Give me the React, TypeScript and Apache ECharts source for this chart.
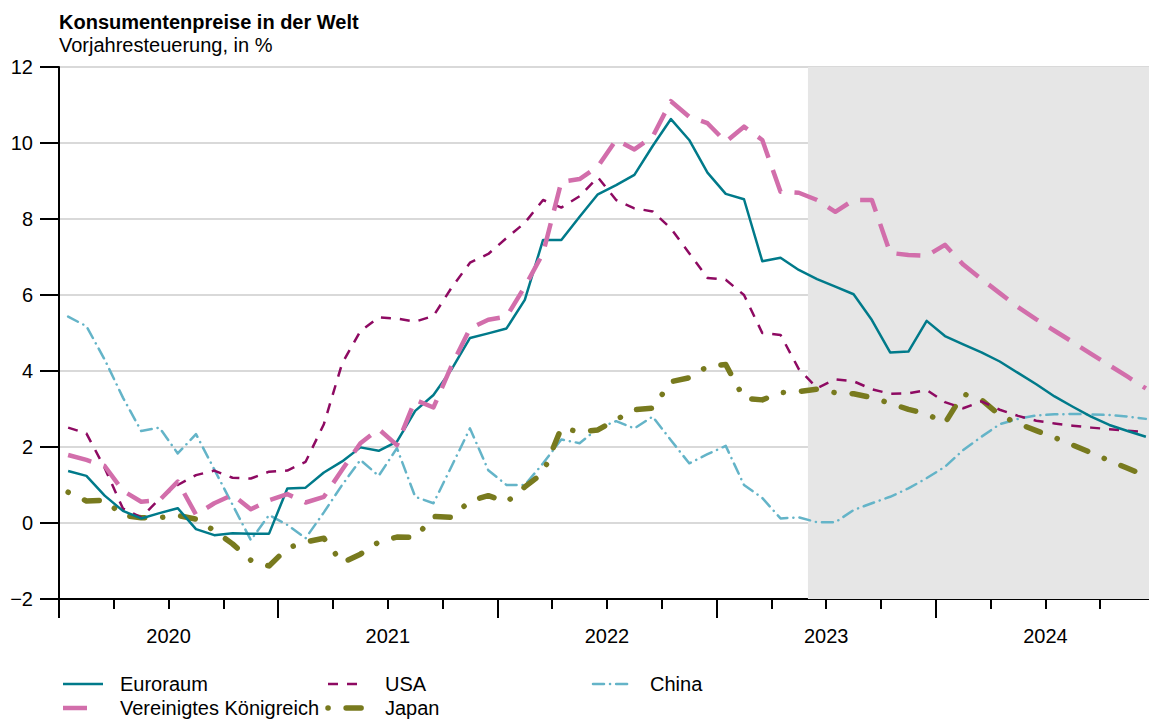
import React, { useEffect, useRef } from "react";
import * as echarts from "echarts";

// ---- data (monthly, Jan 2020 – Dec 2024; year-on-year change in %) ----
const years = ["2020", "2021", "2022", "2023", "2024"];

const euroraum = [
  1.37, 1.24, 0.72, 0.32, 0.12, 0.26, 0.39, -0.16, -0.32, -0.27, -0.28, -0.28,
  0.91, 0.93, 1.33, 1.62, 1.99, 1.9, 2.14, 2.95, 3.37, 4.05, 4.87, 4.99,
  5.12, 5.87, 7.45, 7.45, 8.06, 8.65, 8.89, 9.16, 9.92, 10.63, 10.08, 9.22,
  8.66, 8.52, 6.89, 6.98, 6.66, 6.42, 6.22, 6.02, 5.34, 4.49, 4.51, 5.32,
  4.92, 4.7, 4.49, 4.25, 3.95, 3.65, 3.33, 3.06, 2.8, 2.58, 2.42, 2.27,
];

const vereinigtesKoenigreich = [
  1.79, 1.66, 1.5, 0.85, 0.56, 0.6, 1.09, 0.22, 0.52, 0.74, 0.36, 0.6,
  0.76, 0.54, 0.69, 1.4, 2.1, 2.47, 2.05, 3.24, 3.04, 4.15, 5.12, 5.35,
  5.43, 6.22, 7.1, 8.98, 9.05, 9.38, 10.08, 9.83, 10.17, 11.1, 10.69, 10.52,
  10.03, 10.43, 10.08, 8.72, 8.69, 8.5, 8.19, 8.5, 8.5, 7.11, 7.05, 7.03,
  7.32, 6.8, 6.42, 6.05, 5.68, 5.36, 5.06, 4.76, 4.45, 4.15, 3.85, 3.54,
];

const usa = [
  2.51, 2.36, 1.45, 0.38, 0.15, 0.63, 1.0, 1.26, 1.38, 1.19, 1.17, 1.35,
  1.38, 1.61, 2.6, 4.2, 5.05, 5.41, 5.38, 5.3, 5.45, 6.2, 6.85, 7.08,
  7.5, 7.9, 8.5, 8.3, 8.6, 9.1, 8.5, 8.28, 8.2, 7.75, 7.1, 6.45,
  6.4, 6.0, 5.0, 4.95, 4.05, 3.55, 3.78, 3.73, 3.52, 3.4, 3.41, 3.5,
  3.18, 3.02, 3.2, 2.98, 2.82, 2.69, 2.62, 2.56, 2.51, 2.47, 2.43, 2.39,
];

const japan = [
  0.81, 0.58, 0.6, 0.2, 0.14, 0.14, 0.2, 0.1, -0.2, -0.55, -0.98, -1.13,
  -0.66, -0.5, -0.4, -1.05, -0.82, -0.5, -0.37, -0.38, 0.17, 0.15, 0.58, 0.72,
  0.55, 0.95, 1.32, 2.5, 2.4, 2.45, 2.72, 2.98, 3.02, 3.72, 3.82, 4.12,
  4.17, 3.28, 3.24, 3.43, 3.46, 3.52, 3.43, 3.4, 3.3, 3.15, 2.99, 2.87,
  2.63, 3.4, 3.24, 2.84, 2.62, 2.43, 2.25, 2.05, 1.85, 1.64, 1.44, 1.24,
];

const china = [
  5.43, 5.18, 4.3, 3.3, 2.42, 2.51, 1.83, 2.34, 1.41, 0.48, -0.45, 0.21,
  -0.05, -0.4, 0.28, 1.0, 1.66, 1.24, 1.97, 0.69, 0.52, 1.5, 2.49, 1.39,
  1.0, 1.0, 1.57, 2.2, 2.1, 2.49, 2.68, 2.49, 2.8, 2.18, 1.57, 1.81,
  2.03, 1.0, 0.66, 0.12, 0.15, 0.02, 0.02, 0.34, 0.52, 0.69, 0.91, 1.18,
  1.48, 1.92, 2.27, 2.6, 2.74, 2.83, 2.86, 2.87, 2.86, 2.84, 2.8, 2.74,
];

// month index (0 = Jan 2020) at which the forecast (shaded) period begins
const forecastStartMonth = 41;
const totalMonths = 60;

// y-axis tick values
const yMin = -2;
const yMax = 12;
const yStep = 2;

const FONT = "'Liberation Sans', Arial, Helvetica, sans-serif";

const toPoints = (vals: number[]) => vals.map((v, i) => [i + 0.5, v]);

const seriesDefs = [
  {
    name: "China",
    data: china,
    color: "#64b4c8",
    width: 2.5,
    dash: [11, 6, 0.1, 6] as number[] | "solid",
    cap: "round",
    legendLen: 38,
  },
  {
    name: "Japan",
    data: japan,
    color: "#787a1e",
    width: 5.5,
    dash: [0.1, 18, 15, 18] as number[] | "solid",
    cap: "round",
    legendLen: 38,
  },
  {
    name: "USA",
    data: usa,
    color: "#8e0a62",
    width: 2.5,
    dash: [10, 9] as number[] | "solid",
    cap: "butt",
    legendLen: 32,
  },
  {
    name: "Euroraum",
    data: euroraum,
    color: "#007a8a",
    width: 2.5,
    dash: "solid" as number[] | "solid",
    cap: "butt",
    legendLen: 40,
  },
  {
    name: "Vereinigtes Königreich",
    data: vereinigtesKoenigreich,
    color: "#d26eab",
    width: 4.5,
    dash: [24, 13] as number[] | "solid",
    cap: "butt",
    legendLen: 26,
  },
];

// legend layout: [series name, column, row]
const legendLayout: [string, number, number][] = [
  ["Euroraum", 0, 0],
  ["USA", 1, 0],
  ["China", 2, 0],
  ["Vereinigtes Königreich", 0, 1],
  ["Japan", 1, 1],
];

export default function App() {
  const ref = useRef<HTMLDivElement>(null);

  useEffect(() => {
    if (!ref.current) return;
    const chart = echarts.init(ref.current, undefined, { renderer: "svg" });

    const colX = [63, 328, 593];
    const rowY = [684, 708];
    const legendGraphics: any[] = [];
    legendLayout.forEach(([name, c, r]) => {
      const s = seriesDefs.find((d) => d.name === name)!;
      legendGraphics.push({
        type: "line",
        shape: { x1: colX[c], y1: rowY[r], x2: colX[c] + s.legendLen, y2: rowY[r] },
        style: {
          stroke: s.color,
          lineWidth: s.width,
          lineDash: s.dash === "solid" ? null : s.dash,
          lineCap: s.cap,
        },
        silent: true,
      });
      legendGraphics.push({
        type: "text",
        x: colX[c] + 57,
        y: rowY[r],
        style: {
          text: name,
          fontSize: 20,
          fontFamily: FONT,
          fill: "#000",
          verticalAlign: "middle",
          align: "left",
        },
        silent: true,
      });
    });

    const option: any = {
      animation: false,
      backgroundColor: "#fff",
      textStyle: { fontFamily: FONT },
      title: [
        {
          text: "Konsumentenpreise in der Welt",
          left: 59,
          top: 12,
          padding: 0,
          textStyle: { fontSize: 20, fontWeight: "bold", color: "#000", fontFamily: FONT },
        },
        {
          text: "Vorjahresteuerung, in %",
          left: 59,
          top: 35,
          padding: 0,
          textStyle: { fontSize: 20, fontWeight: "normal", color: "#000", fontFamily: FONT },
        },
      ],
      grid: { left: 59, top: 67, width: 1096, height: 532, containLabel: false },
      xAxis: [
        {
          type: "value",
          position: "bottom",
          min: 0,
          max: totalMonths,
          interval: 12,
          axisLine: { show: true, onZero: false, lineStyle: { color: "#000", width: 2 } },
          axisTick: { show: true, length: 19, lineStyle: { color: "#000", width: 2 } },
          minorTick: { show: true, splitNumber: 4, length: 10, lineStyle: { color: "#000", width: 2 } },
          axisLabel: { show: false },
          splitLine: { show: false },
          minorSplitLine: { show: false },
        },
        {
          type: "category",
          position: "bottom",
          data: years,
          boundaryGap: true,
          axisLine: { show: false, onZero: false },
          axisTick: { show: false },
          splitLine: { show: false },
          axisLabel: { show: true, margin: 27, fontSize: 20, color: "#000", fontFamily: FONT },
        },
      ],
      yAxis: {
        type: "value",
        min: yMin,
        max: yMax,
        interval: yStep,
        axisLine: { show: true, lineStyle: { color: "#000", width: 2 } },
        axisTick: { show: true, length: 19, lineStyle: { color: "#000", width: 2 } },
        axisLabel: {
          margin: 26,
          fontSize: 20,
          color: "#000",
          fontFamily: FONT,
          formatter: (v: number) => (v < 0 ? "\u2212" + Math.abs(v) : String(v)),
        },
        splitLine: { show: true, lineStyle: { color: "#cccccc", width: 1.5 } },
      },
      series: [
        {
          name: "Prognosezeitraum",
          type: "line",
          data: [],
          z: -1,
          silent: true,
          markArea: {
            silent: true,
            itemStyle: { color: "#e6e6e6" },
            data: [[{ xAxis: forecastStartMonth, yAxis: yMax }, { xAxis: totalMonths, yAxis: yMin }]],
          },
        },
        ...seriesDefs.map((s) => ({
          name: s.name,
          type: "line",
          xAxisIndex: 0,
          yAxisIndex: 0,
          data: toPoints(s.data),
          showSymbol: false,
          symbol: "none",
          silent: true,
          z: 3,
          lineStyle: {
            color: s.color,
            width: s.width,
            type: s.dash,
            cap: s.cap,
            join: "round",
          },
        })),
      ],
      graphic: legendGraphics,
    };

    chart.setOption(option);
    return () => {
      chart.dispose();
    };
  }, []);

  return (
    <div
      style={{
        position: "fixed",
        left: 0,
        top: 0,
        width: 1149,
        height: 719,
        overflow: "hidden",
        background: "#fff",
      }}
    >
      <div ref={ref} style={{ width: 1160, height: 719 }} />
    </div>
  );
}
